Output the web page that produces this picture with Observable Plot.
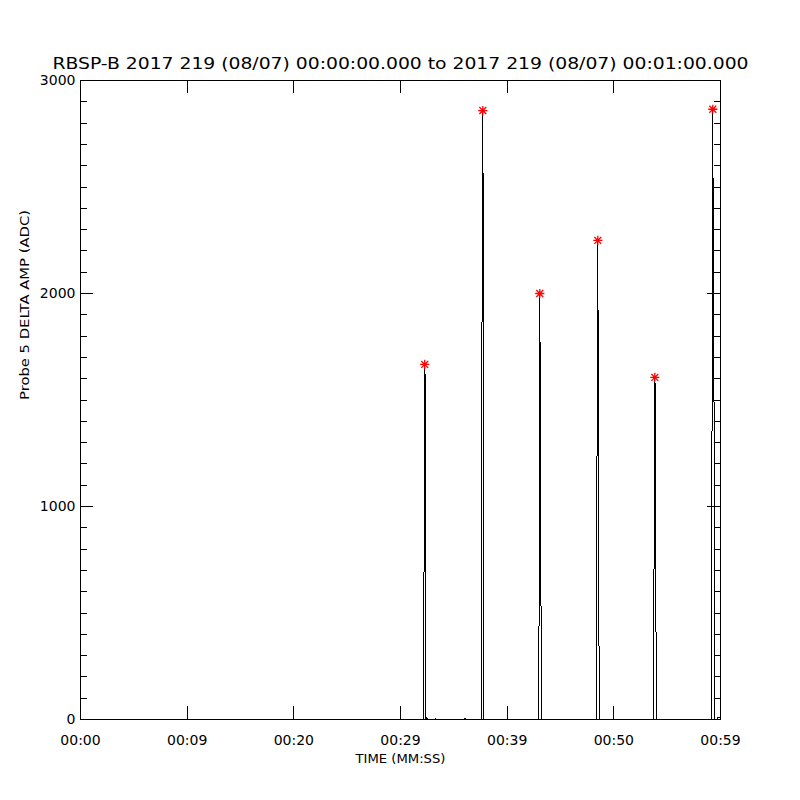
<!DOCTYPE html>
<html><head><meta charset="utf-8">
<script src="https://cdn.jsdelivr.net/npm/d3@7"></script>
<script src="https://cdn.jsdelivr.net/npm/@observablehq/plot@0.6"></script>
<style>body{margin:0;background:#fff} svg{display:block}</style>
</head><body><div id="chart"></div>
<script>
const titleText = "RBSP-B 2017 219 (08/07) 00:00:00.000 to 2017 219 (08/07) 00:01:00.000";
const xTitle = "TIME (MM:SS)";
const yTitle = "Probe 5 DELTA AMP (ADC)";

// time in seconds after 00:00:00, amplitude in ADC
const timeSec = [0, 32.184, 32.213, 32.269, 32.344, 32.391, 32.466, 32.51,
  33.28, 33.31, 33.34, 35.95, 36.0, 36.08, 36.13,
  37.613, 37.641, 37.716, 37.781, 37.809,
  42.956, 42.984, 43.059, 43.125, 43.191, 43.247,
  48.328, 48.375, 48.413, 48.497, 48.563, 48.628, 48.684,
  53.738, 53.775, 53.841, 53.906, 53.972, 54.047,
  59.184, 59.213, 59.278, 59.334, 59.381, 59.438, 59.7, 59.738, 59.98];
const amplitude = [0, 0, 925, 1667, 1545, 0, 8, 0,
  0, 5, 0, 0, 6, 6, 0,
  0, 1850, 2859, 1880, 0,
  0, 382, 2000, 1255, 253, 0,
  0, 47, 1080, 2249, 1166, 39, 0,
  0, 884, 1606, 1525, 8, 0,
  0, 1829, 2865, 1926, 1820, 0, 0, 8, 8];

const peakTimeSec = [32.269, 37.716, 43.059, 48.497, 53.841, 59.278];
const peakAmplitude = [1667, 2859, 2000, 2249, 1606, 2865];

const xTickValues = [0, 10, 20, 30, 40, 50, 60];
const xTickLabels = ["00:00", "00:09", "00:20", "00:29", "00:39", "00:50", "00:59"];
const yTickValues = [0, 1000, 2000, 3000];
const yTickLabels = ["0", "1000", "2000", "3000"];
const yMinorValues = d3.range(0, 3001, 100).filter(v => v % 1000 !== 0);

const series = timeSec.map((t, i) => ({t, v: amplitude[i]}));
const peaks = peakTimeSec.map((t, i) => ({t, v: peakAmplitude[i]}));

const W = 800, H = 800, mL = 80, mR = 80, mT = 80, mB = 81;
const pw = W - mL - mR, ph = H - mT - mB;
const majorLen = 13, minorLen = 6.5;

const asterisk = {
  draw(ctx, size) {
    const r = Math.sqrt(size / Math.PI);
    const d = r * 0.75;
    ctx.moveTo(-r, 0); ctx.lineTo(r, 0);
    ctx.moveTo(0, -r); ctx.lineTo(0, r);
    ctx.moveTo(-d, -d); ctx.lineTo(d, d);
    ctx.moveTo(-d, d); ctx.lineTo(d, -d);
  }
};

const crisp = {stroke: "black", strokeWidth: 1, shapeRendering: "crispEdges"};

const chart = Plot.plot({
  width: W, height: H,
  marginLeft: mL, marginRight: mR, marginTop: mT, marginBottom: mB,
  style: {fontFamily: "DejaVu Sans", background: "white", color: "black"},
  x: {domain: [0, 60], axis: null},
  y: {domain: [0, 3000], axis: null},
  marks: [
    Plot.line(series, {x: "t", y: "v", ...crisp}),
    Plot.frame(crisp),
    Plot.tickX(xTickValues, {x: d => d, insetTop: ph - majorLen, ...crisp}),
    Plot.tickX(xTickValues, {x: d => d, insetBottom: ph - majorLen, ...crisp}),
    Plot.tickY(yTickValues, {y: d => d, insetRight: pw - majorLen, ...crisp}),
    Plot.tickY(yTickValues, {y: d => d, insetLeft: pw - majorLen, ...crisp}),
    Plot.tickY(yMinorValues, {y: d => d, insetRight: pw - minorLen, ...crisp}),
    Plot.tickY(yMinorValues, {y: d => d, insetLeft: pw - minorLen, ...crisp}),
    Plot.dot(peaks, {x: "t", y: "v", symbol: asterisk, r: 4.6, stroke: "red", strokeWidth: 1.3, fill: "none"}),
    Plot.text(xTickValues, {x: d => d, frameAnchor: "bottom", dy: 21, text: (d, i) => xTickLabels[i], fontSize: 14, lineAnchor: "middle"}),
    Plot.text(yTickValues, {y: d => d, frameAnchor: "left", dx: -5, textAnchor: "end", text: (d, i) => yTickLabels[i], fontSize: 14, lineAnchor: "middle"}),
    Plot.text([titleText], {frameAnchor: "top", dy: -17, text: d => d, fontSize: 16, lineAnchor: "middle"}),
    Plot.text([xTitle], {frameAnchor: "bottom", dy: 39, text: d => d, fontSize: 13, lineAnchor: "middle"}),
    Plot.text([yTitle], {frameAnchor: "left", dx: -56, rotate: -90, text: d => d, fontSize: 13, lineAnchor: "middle"})
  ]
});
document.getElementById("chart").appendChild(chart);

// stretch the text to the wide vector font widths of the original
const widths = new Map([[titleText, 696], [yTitle, 190], [xTitle, 90]]);
chart.querySelectorAll("text").forEach(el => {
  const w = widths.get(el.textContent);
  if (w) { el.setAttribute("textLength", w); el.setAttribute("lengthAdjust", "spacingAndGlyphs"); }
});
</script></body></html>
